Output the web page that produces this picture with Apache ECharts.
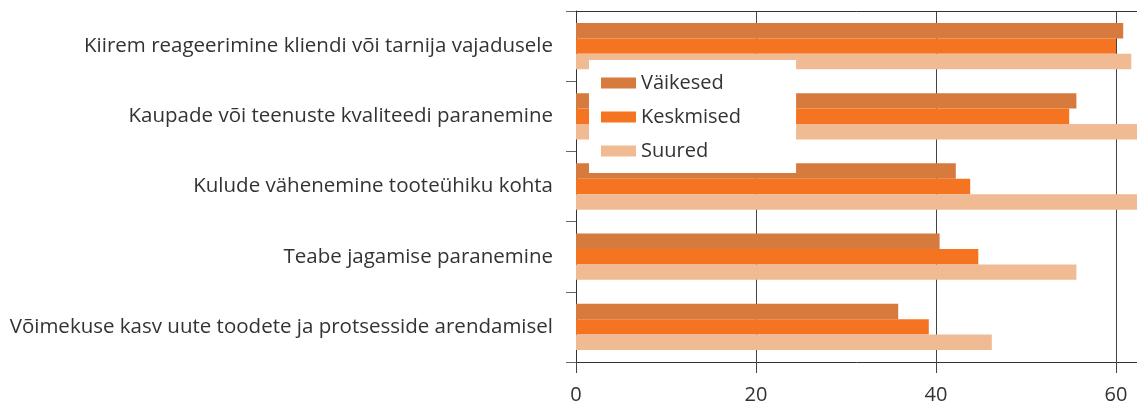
<!DOCTYPE html>
<html>
<head>
<meta charset="utf-8">
<script src="https://cdn.jsdelivr.net/npm/echarts@6/dist/echarts.min.js"></script>
<style>
  html, body { margin: 0; padding: 0; background: #fff; }
  #main { width: 1137px; height: 408px; }
</style>
</head>
<body>
<div id="main"></div>
<script>
// kategooriad ülevalt alla
var categories = [
  'Kiirem reageerimine kliendi või tarnija vajadusele',
  'Kaupade või teenuste kvaliteedi paranemine',
  'Kulude vähenemine tooteühiku kohta',
  'Teabe jagamise paranemine',
  'Võimekuse kasv uute toodete ja protsesside arendamisel'
]
var seriesNames = ['Väikesed', 'Keskmised', 'Suured']
var vaikesed = [60.8, 55.6, 42.2, 40.4, 35.8]
var keskmised = [60.0, 54.8, 43.8, 44.7, 39.2]
var suured = [61.7, 63.5, 63.5, 55.6, 46.2]
var tickValues = [0, 20, 40, 60]
var colors = ['#d67a3d', '#f47421', '#f0ba92']

var chart = echarts.init(document.getElementById('main'))
var font = '"Open Sans", "Noto Sans", sans-serif'

var option = {
  animation: false,
  color: colors,
  textStyle: { fontFamily: font },
  legend: {
    orient: 'vertical',
    left: 589,
    top: 60,
    backgroundColor: '#fff',
    padding: [13, 55, 12, 12],
    itemWidth: 35,
    itemHeight: 11,
    itemGap: 14,
    icon: 'rect',
    textStyle: { fontSize: 20, color: '#333', fontFamily: font },
    data: seriesNames
  },
  grid: {
    left: 576,
    right: -159,
    top: 11,
    bottom: 46,
    outerBoundsMode: 'none'
  },
  xAxis: [{
    type: 'value',
    min: 0,
    max: 80,
    interval: 20,
    axisLine: { show: true, lineStyle: { color: '#333', width: 1 } },
    axisTick: { show: true, length: 11, lineStyle: { color: '#444' } },
    axisLabel: {
      margin: 23,
      fontSize: 20,
      color: '#333',
      fontFamily: font,
      formatter: function (v) { return tickValues.indexOf(v) >= 0 ? String(v) : '' }
    },
    splitLine: { show: true, lineStyle: { color: '#444', width: 1 } }
  }, {
    type: 'value',
    position: 'top',
    min: 0,
    max: 80,
    interval: 20,
    axisLine: { show: true, lineStyle: { color: '#333', width: 1 } },
    axisTick: { show: false },
    axisLabel: { show: false },
    splitLine: { show: false }
  }],
  yAxis: {
    type: 'category',
    inverse: true,
    data: categories,
    axisLine: { show: true, lineStyle: { color: '#333', width: 1 } },
    axisTick: { show: true, length: 10, lineStyle: { color: '#666' } },
    axisLabel: {
      margin: 23,
      fontSize: 20.5,
      color: '#333',
      fontFamily: font
    }
  },
  series: [
    { name: seriesNames[0], type: 'bar', data: vaikesed, barGap: '0%', barCategoryGap: '34%' },
    { name: seriesNames[1], type: 'bar', data: keskmised, barGap: '0%', barCategoryGap: '34%' },
    { name: seriesNames[2], type: 'bar', data: suured, barGap: '0%', barCategoryGap: '34%' }
  ]
}
chart.setOption(option)
</script>
</body>
</html>
